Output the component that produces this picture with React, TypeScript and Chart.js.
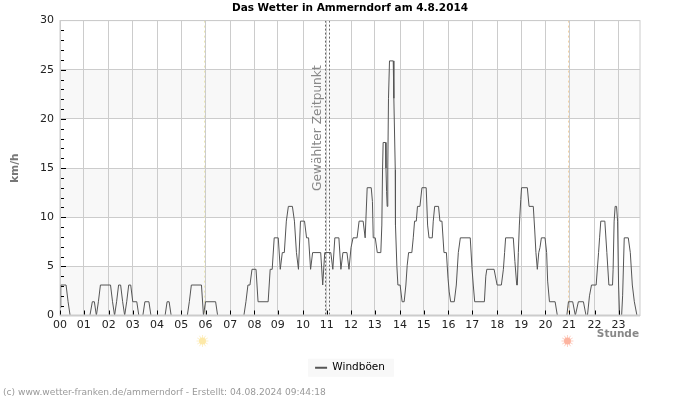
import { useEffect, useRef } from "react";
import { Chart, registerables } from "chart.js";

Chart.register(...registerables);

const FONT = "'DejaVu Sans'";

const TITLE = "Das Wetter in Ammerndorf am 4.8.2014";
const SERIES_NAME = "Windböen";
const CREDIT = "(c) www.wetter-franken.de/ammerndorf - Erstellt: 04.08.2024 09:44:18";
const SELECTED_LABEL = "Gewählter Zeitpunkt";

const hourLabels = ["00","01","02","03","04","05","06","07","08","09","10","11","12","13","14","15","16","17","18","19","20","21","22","23"];
// Five-minute sample slots at which each hour starts.
const hourSlots = [0,11.7,24.1,36,48,60,72,84.2,96.2,107.8,120.3,132,144,155.7,168.3,180,192.2,204,216.4,228.3,240.2,251.9,264.5,276.4];
const lastSlot = 287;

const sampleSlots = [
  0,0.4,3,4,5,14.8,16,17,18,19,20,25,26,27,28,29,30,31,32,33,34,35,36,38,39,41,42,44,45,52,53,54,55,63,64,65,70,71,72,77,78,
  91,92,93,94,95,97,98,103,104,105,106,108,109,110,111,112,113,115,116,117,118,119,121,122,123,124,125,129,130,131,134,135,136,138,139,140,142,143,144,145,147,148,150,151,152,154,154.6,155,156,157,158.75,
  159.25,159.6,159.9,161.1,161.3,161.6,161.9,162.2,162.55,163.05,164.9,165.2,165.9,166,166.7,167.2,168.3,169.3,170.3,171.15,171.8,172.5,174.1,174.8,175.45,176.3,176.9,178.1,179.1,181.2,181.9,182.6,184.2,184.7,185.4,187.3,188,189,190,191.2,192,192.6,193.3,195.1,196.1,197.1,198.1,203,203.9,204.5,205.2,210,210.7,211.2,214.8,216.3,218.4,219.4,220,220.5,224.3,225.1,226,226.3,226.8,227.3,228,228.4,231.25,232.1,234.2,234.9,235.5,236.2,236.9,237.5,238.2,240,240.8,241.3,242.2,245,246.1,250.8,251.6,253.7,255,256.5,259,260.3,261,262,263,265.3,266.5,267,267.6,269.6,270.6,271.6,273.4,273.7,274.2,274.7,275.4,275.9,276.4,276.9,277.9,278.4,279.2,281.2,282.2,283.2,284.2,285.5,287,
];
const gustKmh = [
  0.8,3.1,3.1,1.4,0,0,1.4,1.4,0,1.4,3.1,3.1,1.4,0,1.4,3.1,3.1,1.4,0,1.4,3.1,3.1,1.4,1.4,0,0,1.4,1.4,0,0,1.4,1.4,0,0,1.4,3.1,3.1,0,1.4,1.4,0,
  0,1.4,3.1,3.1,4.7,4.7,1.4,1.4,4.7,4.7,7.9,7.9,4.7,6.4,6.4,9.6,11.1,11.1,9.6,6.4,4.7,9.6,9.6,7.9,7.9,4.7,6.4,6.4,3.1,6.4,6.4,4.7,7.9,7.9,4.7,6.4,6.4,4.7,6.9,7.9,7.9,9.6,9.6,7.9,13,13,11.6,7.9,7.9,6.4,6.4,
  9.2,14.8,17.6,17.6,15,12.6,11.1,15,22.1,25.9,25.9,22.1,14.8,9.2,5,3.1,3.1,1.4,1.4,3.1,5.1,6.4,6.4,7.9,9.6,9.6,11.1,11.1,13,13,9.2,7.9,7.9,9.6,11.1,11.1,9.6,9.6,6.4,6.4,3.8,2.4,1.4,1.4,3.1,6.4,7.9,7.9,4.7,3.1,1.4,1.4,4,4.7,4.7,3.1,3.1,4.7,6.4,7.9,7.9,5.5,3.1,3.1,6.4,9.2,11.8,13,13,11.1,11.1,8.7,6.4,4.7,6.4,6.9,7.9,7.9,6.4,3.5,1.4,1.4,0,0,1.4,1.4,0,1.4,1.4,0,0,2,3.1,3.1,6.4,7.9,9.6,9.6,6.4,3.1,3.1,4.7,9.6,11.1,11.1,9.6,3.1,0,0,2,7.9,7.9,6.4,3.1,1.4,0,0,
];

const sunriseSlot = 71.5;
const sunsetSlot = 251.6;
const selectedSlots = [131.1, 133.1];
const bandStarts = [0, 10, 20];

const GRID = "#cccccc";
const BAND = "#f8f8f8";
const LINE = "#555555";

function drawSun(ctx: CanvasRenderingContext2D, x: number, y: number, core: string, ray: string) {
  ctx.save();
  ctx.strokeStyle = ray;
  ctx.lineWidth = 1;
  for (let i = 0; i < 12; i++) {
    const a = (i * Math.PI) / 6;
    ctx.beginPath();
    ctx.moveTo(x + Math.cos(a) * 3, y + Math.sin(a) * 3);
    ctx.lineTo(x + Math.cos(a) * 6, y + Math.sin(a) * 6);
    ctx.stroke();
  }
  ctx.fillStyle = core;
  ctx.beginPath();
  ctx.arc(x, y, 3.5, 0, Math.PI * 2);
  ctx.fill();
  ctx.restore();
}

const decorations = {
  id: "decorations",
  beforeDraw(chart: any) {
    const { ctx, chartArea: a, scales } = chart;
    const y = scales.y;
    ctx.save();
    ctx.fillStyle = "#ffffff";
    ctx.fillRect(0, 0, chart.width, chart.height);
    ctx.fillStyle = BAND;
    for (const start of bandStarts) {
      const top = y.getPixelForValue(start + 5);
      ctx.fillRect(a.left, top, a.right - a.left, y.getPixelForValue(start) - top);
    }
    // Pale plate behind the single legend entry.
    const hit = chart.legend?.legendHitBoxes?.[0];
    if (hit) {
      ctx.fillStyle = BAND;
      ctx.fillRect(hit.left - 7, hit.top + hit.height / 2 - 9, hit.width + 16, 18);
    }
    ctx.restore();
  },
  beforeDatasetsDraw(chart: any) {
    const { ctx, chartArea: a, scales } = chart;
    const x = scales.x;
    const vline = (slot: number, color: string, dash: number[]) => {
      const px = Math.round(x.getPixelForValue(slot)) + 0.5;
      ctx.strokeStyle = color;
      ctx.setLineDash(dash);
      ctx.beginPath();
      ctx.moveTo(px, a.top);
      ctx.lineTo(px, a.bottom);
      ctx.stroke();
    };
    ctx.save();
    ctx.lineWidth = 1;
    vline(sunriseSlot, "#ece8b4", [2, 3]);
    vline(sunsetSlot, "#f5d3a4", [2, 3]);
    for (const s of selectedSlots) vline(s, "#666666", [2, 2]);
    ctx.setLineDash([]);
    ctx.fillStyle = "#888888";
    ctx.font = `12.2px ${FONT}`;
    ctx.textAlign = "left";
    ctx.textBaseline = "middle";
    ctx.translate(x.getPixelForValue(selectedSlots[0]) - 7, 191);
    ctx.rotate(-Math.PI / 2);
    ctx.fillText(SELECTED_LABEL, 0, 0);
    ctx.restore();
  },
  afterDatasetsDraw(chart: any) {
    const { ctx, chartArea: a, scales } = chart;
    const { x, y } = scales;
    ctx.save();
    ctx.strokeStyle = GRID;
    ctx.lineWidth = 1;
    ctx.strokeRect(a.left, a.top, a.right - a.left, a.bottom - a.top);
    ctx.lineWidth = 2;
    ctx.beginPath();
    ctx.moveTo(a.left, a.bottom);
    ctx.lineTo(a.right, a.bottom);
    ctx.stroke();

    // Short black inward ticks along both axes.
    ctx.strokeStyle = "#000000";
    ctx.lineWidth = 1;
    for (let v = 1; v < 30; v++) {
      const py = Math.round(y.getPixelForValue(v)) + 0.5;
      ctx.beginPath();
      ctx.moveTo(a.left + 1, py);
      ctx.lineTo(a.left + (v % 5 === 0 ? 6 : 4), py);
      ctx.stroke();
    }
    for (const s of hourSlots) {
      const px = Math.round(x.getPixelForValue(s)) + 0.5;
      ctx.beginPath();
      ctx.moveTo(px, a.bottom - 5);
      ctx.lineTo(px, a.bottom - 1);
      ctx.stroke();
    }

    ctx.fillStyle = "#888888";
    ctx.font = `bold 10.5px ${FONT}`;
    ctx.textAlign = "right";
    ctx.textBaseline = "middle";
    ctx.fillText("Stunde", a.right - 1, 334);

    ctx.fillStyle = "#999999";
    ctx.font = `9.1px ${FONT}`;
    ctx.textAlign = "left";
    ctx.fillText(CREDIT, 3, 393);

    drawSun(ctx, x.getPixelForValue(sunriseSlot) - 2, 341, "#fde9a8", "#fdf0c8");
    drawSun(ctx, x.getPixelForValue(sunsetSlot) - 1, 341, "#fdb4a0", "#fdd0c4");
    ctx.restore();
  },
};

export default function App() {
  const ref = useRef<HTMLCanvasElement>(null);
  useEffect(() => {
    const chart = new Chart(ref.current as HTMLCanvasElement, {
      type: "line",
      data: {
        datasets: [
          {
            label: SERIES_NAME,
            data: sampleSlots.map((s, i) => ({ x: s, y: gustKmh[i] })),
            borderColor: LINE,
            backgroundColor: LINE,
            borderWidth: 1,
            pointRadius: 0,
            tension: 0,
          },
        ],
      },
      options: {
        responsive: false,
        animation: false,
        devicePixelRatio: 1,
        layout: { padding: { left: 0, right: 0, top: 0, bottom: 17 } },
        plugins: {
          title: {
            display: true,
            text: TITLE,
            color: "#000000",
            font: { family: FONT, size: 10.5, weight: "bold" },
            padding: { top: 2, bottom: 6 },
          },
          legend: {
            display: true,
            position: "bottom",
            labels: {
              usePointStyle: true,
              pointStyle: "line",
              pointStyleWidth: 12,
              boxHeight: 8,
              color: "#000000",
              padding: 4,
              font: { family: FONT, size: 10.5 },
              generateLabels(chart: any) {
                return Chart.defaults.plugins.legend.labels
                  .generateLabels(chart)
                  .map((item: any) => ({ ...item, lineWidth: 2 }));
              },
            },
          },
          tooltip: { enabled: false },
        },
        scales: {
          x: {
            type: "linear",
            min: 0,
            max: lastSlot,
            afterBuildTicks(scale: any) {
              scale.ticks = hourSlots.map((value) => ({ value }));
            },
            afterFit(scale: any) {
              scale.height = 43;
            },
            grid: { color: GRID, drawTicks: false },
            border: { display: false },
            ticks: {
              autoSkip: false,
              maxRotation: 0,
              color: "#222222",
              padding: 3,
              font: { family: FONT, size: 11 },
              callback: (_v: any, i: number) => hourLabels[i],
            },
          },
          y: {
            min: 0,
            max: 30,
            afterFit(scale: any) {
              scale.width = 60;
            },
            title: {
              display: true,
              text: "km/h",
              color: "#777777",
              font: { family: FONT, size: 10.5, weight: "bold" },
              padding: { top: 9, bottom: 0 },
            },
            grid: { color: GRID, drawTicks: false },
            border: { display: false },
            ticks: {
              stepSize: 5,
              color: "#222222",
              padding: 6,
              font: { family: FONT, size: 11 },
            },
          },
          // Empty right-hand gutter so the title and legend centre on the full page.
          gutter: {
            type: "linear",
            position: "right",
            afterFit(scale: any) {
              scale.width = 60;
            },
            grid: { display: false },
            border: { display: false },
            ticks: { display: false },
          },
        },
      },
      plugins: [decorations],
    } as any);
    return () => chart.destroy();
  }, []);
  return (
    <div style={{ position: "fixed", left: 0, top: 0, width: 700, height: 400, background: "#fff" }}>
      <canvas ref={ref} width={700} height={400} style={{ display: "block" }} />
    </div>
  );
}
